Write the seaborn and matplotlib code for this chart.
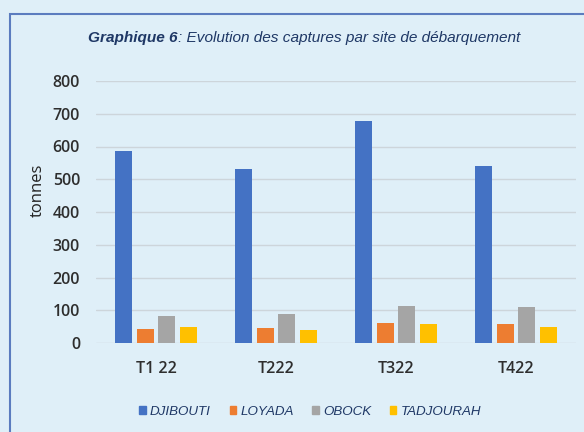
import pandas as pd
import numpy as np
import matplotlib
matplotlib.use('Agg')
import matplotlib.pyplot as plt
import seaborn as sns
from matplotlib.patches import Rectangle

# data (tonnes)
quarters = ['T1 22', 'T222', 'T322', 'T422']
sites = ['DJIBOUTI', 'LOYADA', 'OBOCK', 'TADJOURAH']
djibouti = [585, 530, 677, 539]
loyada = [43, 46, 61, 57]
obock = [81, 88, 113, 109]
tadjourah = [49, 39, 57, 49]
site_colors = ['#4472C4', '#ED7D31', '#A5A5A5', '#FFC000']

df = pd.DataFrame({
    'trimestre': quarters * 4,
    'site': np.repeat(sites, len(quarters)),
    'tonnes': djibouti + loyada + obock + tadjourah,
})

bg = '#dfeff8'
navy = '#1f3866'
sns.set_theme(style='white')
plt.rcParams['font.family'] = ['Open Sans', 'DejaVu Sans']

fig = plt.figure(figsize=(5.84, 4.32), dpi=100, facecolor=bg)
ax = fig.add_axes([96 / 584, 1 - 343 / 432, 480 / 584, 262 / 432])
ax.set_facecolor(bg)

sns.barplot(data=df, x='trimestre', y='tonnes', hue='site', hue_order=sites,
            palette=site_colors, width=0.72, gap=0.22, saturation=1,
            linewidth=0, ax=ax, legend=False)

ax.set_ylim(0, 800)
ax.set_yticks(range(0, 801, 100))
ax.set_xlim(-0.5, 3.5)
ax.grid(axis='y', color='#cdd5db', linewidth=1)
ax.set_axisbelow(True)
for s in ax.spines.values():
    s.set_visible(False)
ax.tick_params(axis='both', length=0)
ax.tick_params(axis='y', pad=11.5, labelsize=11.5, labelcolor='#2e2e2e')
ax.tick_params(axis='x', pad=13, labelsize=11.5, labelcolor='#2e2e2e')
for lab in ax.get_xticklabels() + ax.get_yticklabels():
    lab.set_fontweight('semibold')
ax.set_xlabel('')
ax.set_ylabel('tonnes', fontsize=12, color='#222222')
ax.yaxis.set_label_coords(-0.105, 0.584)

# frame around the chart area
fig.patches.append(Rectangle((10 / 584, -0.01), 0.99, 1 - 14 / 432 + 0.01,
                             transform=fig.transFigure, fill=False,
                             edgecolor='#5b7cbf', linewidth=1.5))

# title: bold part + italic part
t1 = fig.text(88 / 584, 1 - 38 / 432, 'Graphique 6', family='Liberation Sans',
              style='italic', weight='bold', fontsize=11.1, color=navy,
              va='center', ha='left')
fig.canvas.draw()
bb = t1.get_window_extent()
fig.text(bb.x1 / fig.bbox.width, 1 - 38 / 432,
         ': Evolution des captures par site de débarquement',
         family='Liberation Sans', style='italic', fontsize=11.1, color=navy,
         va='center', ha='left')

handles = [Rectangle((0, 0), 1, 1, color=c) for c in site_colors]
leg = fig.legend(handles, sites, loc='center', bbox_to_anchor=(0.531, 1 - 412 / 432),
                 ncol=4, frameon=False, handlelength=0.5, handleheight=0.5,
                 handletextpad=0.3, columnspacing=1.4,
                 prop={'family': 'Liberation Sans', 'style': 'italic', 'size': 9.6})
for txt in leg.get_texts():
    txt.set_color(navy)

fig.savefig('out.png', dpi=100, facecolor=bg)
